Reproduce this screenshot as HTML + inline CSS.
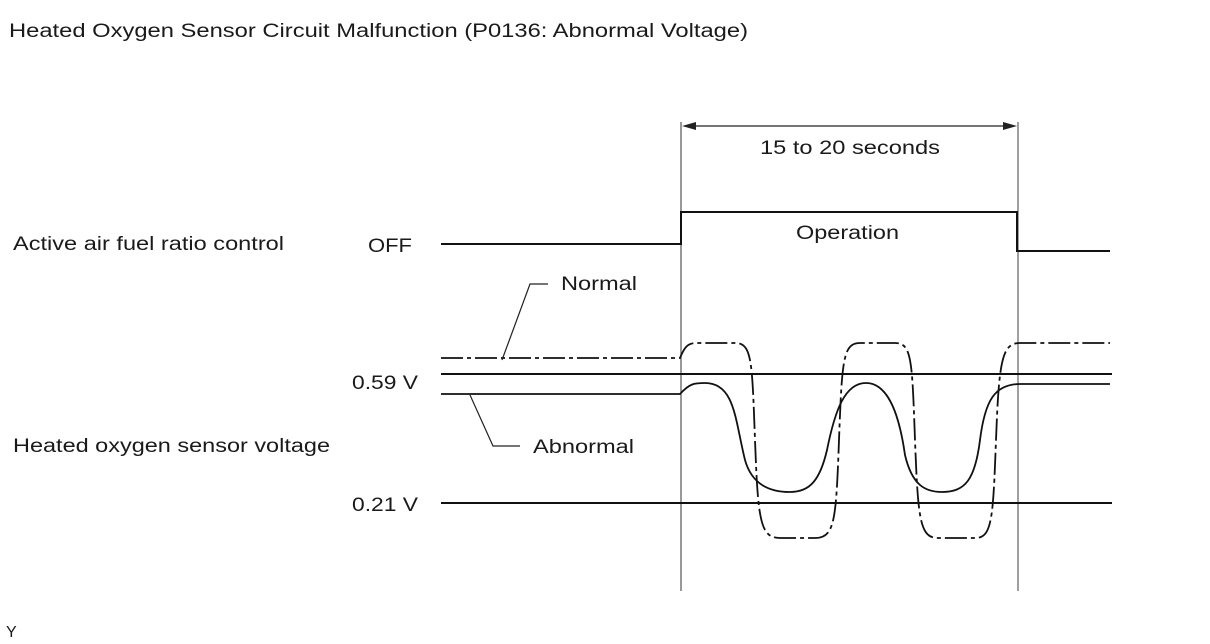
<!DOCTYPE html>
<html><head><style>
body{margin:0;background:#fff;}
svg{display:block;}
text{font-family:"Liberation Sans",Arial,sans-serif;fill:#1a1a1a;}
</style></head><body>
<svg width="1210" height="644" viewBox="0 0 1210 644">
<text x="9" y="37" font-size="19" textLength="739" lengthAdjust="spacingAndGlyphs">Heated Oxygen Sensor Circuit Malfunction (P0136: Abnormal Voltage)</text>
<text x="13" y="250" font-size="19" textLength="271" lengthAdjust="spacingAndGlyphs">Active air fuel ratio control</text>
<text x="13" y="452" font-size="19" textLength="317" lengthAdjust="spacingAndGlyphs">Heated oxygen sensor voltage</text>
<text x="368" y="252" font-size="19" textLength="44" lengthAdjust="spacingAndGlyphs">OFF</text>
<text x="352" y="389" font-size="19" textLength="66" lengthAdjust="spacingAndGlyphs">0.59 V</text>
<text x="352" y="511" font-size="19" textLength="66" lengthAdjust="spacingAndGlyphs">0.21 V</text>
<text x="760" y="154" font-size="19" textLength="180" lengthAdjust="spacingAndGlyphs">15 to 20 seconds</text>
<text x="796" y="239" font-size="19" textLength="103" lengthAdjust="spacingAndGlyphs">Operation</text>
<text x="561" y="290" font-size="19" textLength="76" lengthAdjust="spacingAndGlyphs">Normal</text>
<text x="533" y="453" font-size="19" textLength="101" lengthAdjust="spacingAndGlyphs">Abnormal</text>
<text x="6" y="637" font-size="16">Y</text>
<g fill="none" stroke="#222" stroke-width="1.2">
<line x1="681" y1="122" x2="681" y2="591" stroke="#555"/>
<line x1="1018" y1="122" x2="1018" y2="591" stroke="#888" stroke-width="1.6"/>
<line x1="686" y1="126" x2="1013" y2="126"/>
</g>
<polygon points="682,126 696,122 696,130" fill="#222"/>
<polygon points="1017,126 1003,122 1003,130" fill="#222"/>
<g fill="none" stroke="#111" stroke-width="2">
<polyline points="441,244 681,244 681,212 1017,212 1017,251 1110,251"/>
<line x1="441" y1="374" x2="1112" y2="374"/>
<line x1="441" y1="503" x2="1112" y2="503"/>
<path d="M441,394 L680,394 C690,383 695,383 705,383 C735,383 735,420 745,460 C752,485 770,492 790,492 C810,492 820,480 827,450 C835,410 845,383 866,383 C890,383 900,420 905,455 C912,485 925,492 942,492 C965,492 975,480 980,440 C985,400 995,384 1020,384 L1110,384" stroke-width="1.8"/>
<path d="M441,358 L680,358 C686,343 690,343 700,343 L735,343 C752,343 752,360 755,440 C758,520 760,538 780,538 L815,538 C835,538 836,520 839,440 C842,360 843,343 860,343 L895,343 C912,343 912,360 915,440 C918,520 920,538 938,538 L975,538 C992,538 993,520 996,440 C999,360 1002,343 1020,343 L1110,343" stroke-width="1.8" stroke-dasharray="22,4,4,4"/>
</g>
<g fill="none" stroke="#222" stroke-width="1.2">
<polyline points="548,284 530,284 502,360"/>
<polyline points="470,395 493,446 520,446"/>
</g>
</svg>
</body></html>
